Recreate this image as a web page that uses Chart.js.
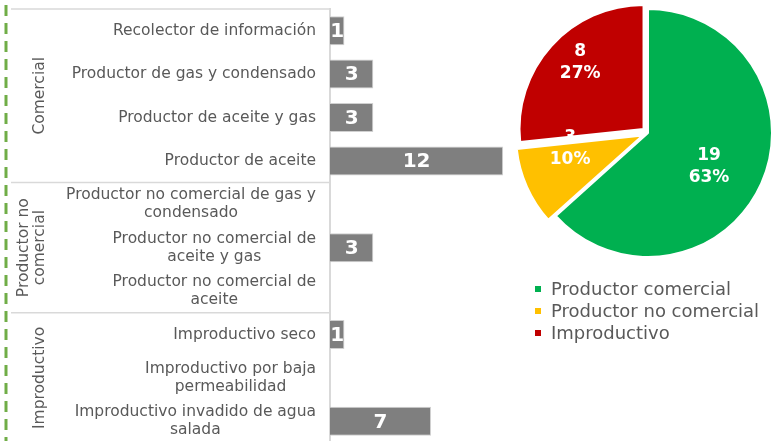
<!DOCTYPE html>
<html><head><meta charset="utf-8">
<script src="https://cdn.jsdelivr.net/npm/chart.js@4/dist/chart.umd.min.js"></script>
<style>
html,body{margin:0;padding:0;background:#fff;width:782px;height:441px;overflow:hidden;position:relative;font-family:"DejaVu Sans",sans-serif;}
#barWrap{position:absolute;left:0;top:0;width:540px;height:452px;}
#pieWrap{position:absolute;left:510px;top:0;width:276px;height:266px;}
#legend{position:absolute;left:535px;top:278px;font-size:18px;color:#595959;line-height:22px;}
#legend div{white-space:nowrap;}
#legend span.sw{display:inline-block;width:6px;height:6px;margin-right:10px;vertical-align:middle;position:relative;top:-1px;}
</style></head>
<body>
<div id="barWrap"><canvas id="bar"></canvas></div>
<div id="pieWrap"><canvas id="pie"></canvas></div>
<div id="legend"></div>
<script>
// ---- data ----
const categories = [
  ["Recolector de información"],
  ["Productor de gas y condensado"],
  ["Productor de aceite y gas"],
  ["Productor de aceite"],
  ["Productor no comercial de gas y", "condensado"],
  ["Productor no comercial de", "aceite y gas"],
  ["Productor no comercial de", "aceite"],
  ["Improductivo seco"],
  ["Improductivo por baja", "permeabilidad"],
  ["Improductivo invadido de agua", "salada"]
];
const counts = [1, 3, 3, 12, null, 3, null, 1, null, 7];
const groupNames = [["Comercial"], ["Productor no", "comercial"], ["Improductivo"]];
const groupSizes = [4, 3, 3];
const pieLabels = ["Productor comercial", "Productor no comercial", "Improductivo"];
const pieValues = [19, 3, 8];
const pieColors = ["#00b050", "#ffc000", "#c00000"];

const FONT = '"DejaVu Sans", sans-serif';
const GREY_TXT = '#595959';
const LINE_C = '#d9d9d9';

// ---- bar chart plugin: category labels, groups, decorations, value labels ----
const barDecor = {
  id: 'barDecor',
  afterDraw(chart) {
    const ctx = chart.ctx, ys = chart.scales.y, area = chart.chartArea;
    const half = (ys.getPixelForValue(1) - ys.getPixelForValue(0)) / 2;
    ctx.save();
    // green dashed line
    ctx.strokeStyle = '#70ad47'; ctx.lineWidth = 3; ctx.setLineDash([11, 7]);
    ctx.beginPath(); ctx.moveTo(6, 5); ctx.lineTo(6, chart.height); ctx.stroke();
    ctx.setLineDash([]);
    // category labels
    ctx.fillStyle = GREY_TXT; ctx.font = '15.5px ' + FONT; ctx.textAlign = 'center'; ctx.textBaseline = 'middle';
    const right = area.left - 14, lh = 18;
    categories.forEach((lines, i) => {
      const y = ys.getPixelForValue(i);
      const w = Math.max(...lines.map(l => ctx.measureText(l).width));
      lines.forEach((l, k) => ctx.fillText(l, right - w / 2, y - (lines.length - 1) * lh / 2 + k * lh));
    });
    // group separators and labels
    ctx.strokeStyle = LINE_C; ctx.lineWidth = 1.5;
    let start = 0;
    groupSizes.forEach((n, g) => {
      const top = ys.getPixelForValue(start) - half;
      const bot = ys.getPixelForValue(start + n - 1) + half;
      ctx.beginPath(); ctx.moveTo(11, top); ctx.lineTo(area.left, top); ctx.stroke();
      const lines = groupNames[g];
      ctx.save();
      ctx.translate(0, (top + bot) / 2); ctx.rotate(-Math.PI / 2);
      ctx.fillStyle = GREY_TXT; ctx.font = '15.5px ' + FONT; ctx.textAlign = 'center'; ctx.textBaseline = 'middle';
      lines.forEach((l, k) => ctx.fillText(l, 0, 40 - (lines.length - 1 - k) * 16));
      ctx.restore();
      start += n;
    });
    // value labels
    ctx.fillStyle = '#fff'; ctx.font = 'bold 20px ' + FONT; ctx.textAlign = 'center'; ctx.textBaseline = 'middle';
    const meta = chart.getDatasetMeta(0);
    meta.data.forEach((bar, i) => {
      if (counts[i] == null) return;
      ctx.fillText(String(counts[i]), (bar.base + bar.x) / 2, bar.y + 1);
    });
    ctx.restore();
  }
};

new Chart(document.getElementById('bar'), {
  type: 'bar',
  data: {
    labels: categories,
    datasets: [{
      data: counts,
      backgroundColor: '#7f7f7f',
      borderColor: '#d0d0d0',
      borderWidth: 1,
      categoryPercentage: 1,
      barPercentage: 0.668
    }]
  },
  options: {
    indexAxis: 'y',
    responsive: true,
    maintainAspectRatio: false,
    animation: false,
    layout: { padding: { left: 10, top: 9, right: 8, bottom: 9 } },
    plugins: { legend: { display: false }, tooltip: { enabled: false } },
    scales: {
      x: { display: false, min: 0, max: 14 },
      y: {
        display: true,
        ticks: { display: false },
        grid: { display: false, drawTicks: false },
        border: { display: true, color: LINE_C, width: 2 },
        afterFit(s) { s.width = 320; }
      }
    }
  },
  plugins: [barDecor]
});

// ---- pie chart ----
// label placement: distance (fraction of radius) and angular nudge (degrees)
const labelRadius = [0.563, 0.64, 0.787];
const labelNudge = [5, 13, 4];
const pieLabelsPlugin = {
  id: 'pieLabels',
  afterDatasetsDraw(chart) {
    const ctx = chart.ctx;
    const total = pieValues.reduce((a, b) => a + b, 0);
    const meta = chart.getDatasetMeta(0);
    ctx.save();
    ctx.fillStyle = '#fff'; ctx.font = 'bold 17px ' + FONT; ctx.textAlign = 'center'; ctx.textBaseline = 'middle';
    meta.data.forEach((arc, i) => {
      const p = arc.getProps(['x', 'y', 'startAngle', 'endAngle', 'outerRadius'], true);
      const mid = (p.startAngle + p.endAngle) / 2 + labelNudge[i] * Math.PI / 180;
      const r = p.outerRadius * labelRadius[i];
      const cx = p.x + Math.cos(mid) * r, cy = p.y + Math.sin(mid) * r;
      const pct = Math.round(pieValues[i] / total * 100) + '%';
      ctx.fillText(String(pieValues[i]), cx, cy - 11);
      ctx.fillText(pct, cx, cy + 11);
    });
    ctx.restore();
  }
};

new Chart(document.getElementById('pie'), {
  type: 'pie',
  data: {
    labels: pieLabels,
    datasets: [{
      data: pieValues,
      backgroundColor: pieColors,
      borderColor: '#ffffff',
      borderWidth: 2,
      offset: [0, 24, 24],
      radius: 124
    }]
  },
  options: {
    responsive: true,
    maintainAspectRatio: false,
    animation: false,
    layout: { padding: 0 },
    plugins: { legend: { display: false }, tooltip: { enabled: false } }
  },
  plugins: [pieLabelsPlugin]
});

// ---- legend (HTML, from pie data) ----
const lg = document.getElementById('legend');
pieLabels.forEach((l, i) => {
  const d = document.createElement('div');
  const s = document.createElement('span'); s.className = 'sw'; s.style.background = pieColors[i];
  d.appendChild(s); d.appendChild(document.createTextNode(l));
  lg.appendChild(d);
});
</script>
</body></html>
